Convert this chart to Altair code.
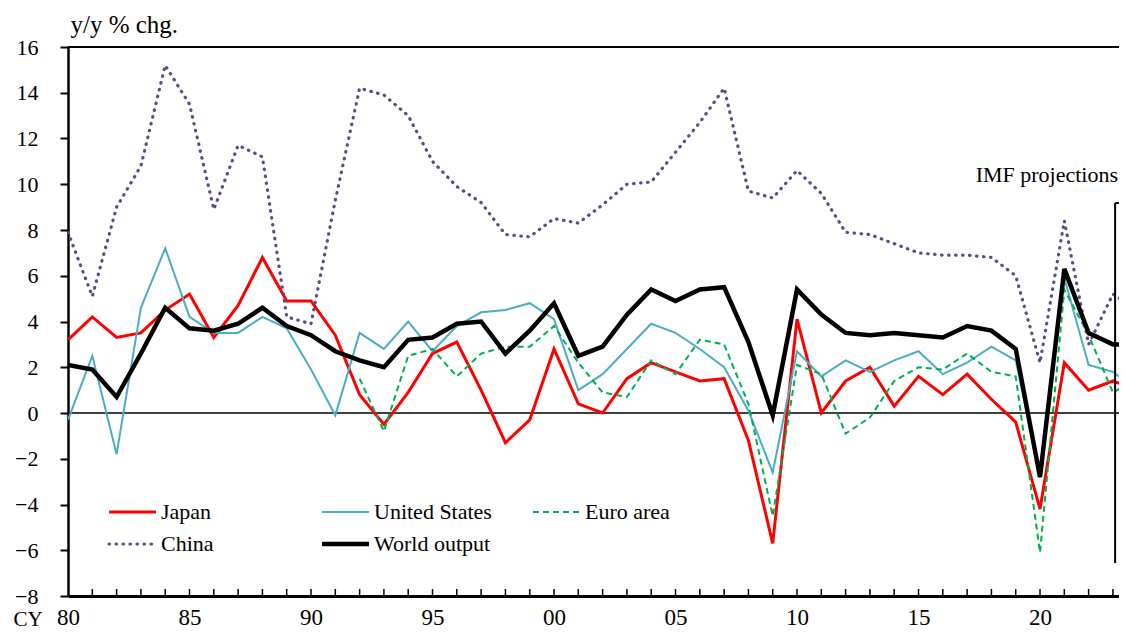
import altair as alt
import pandas as pd

# ---------------- data (y/y % chg.) ----------------
years = list(range(1980, 2025))
japan = [3.2, 4.2, 3.3, 3.5, 4.5, 5.2, 3.3, 4.7, 6.8, 4.9,
         4.9, 3.4, 0.8, -0.5, 0.9, 2.6, 3.1, 1.0, -1.3, -0.3,
         2.8, 0.4, 0.0, 1.5, 2.2, 1.8, 1.4, 1.5, -1.2, -5.7,
         4.1, 0.0, 1.4, 2.0, 0.3, 1.6, 0.8, 1.7, 0.6, -0.4,
         -4.2, 2.2, 1.0, 1.4, 1.0]
united_states = [-0.3, 2.5, -1.8, 4.6, 7.2, 4.2, 3.5, 3.5, 4.2, 3.7,
                 1.9, -0.1, 3.5, 2.8, 4.0, 2.7, 3.8, 4.4, 4.5, 4.8,
                 4.1, 1.0, 1.7, 2.8, 3.9, 3.5, 2.8, 2.0, 0.1, -2.6,
                 2.7, 1.6, 2.3, 1.8, 2.3, 2.7, 1.7, 2.2, 2.9, 2.3,
                 -2.8, 5.9, 2.1, 1.8, 1.0]
euro_years = list(range(1992, 2025))
euro_area = [1.5, -0.8, 2.5, 2.8, 1.6, 2.6, 2.9, 2.9,
             3.8, 2.2, 0.9, 0.7, 2.3, 1.7, 3.2, 3.0, 0.4, -4.5,
             2.1, 1.7, -0.9, -0.2, 1.4, 2.0, 1.9, 2.6, 1.8, 1.6,
             -6.1, 5.4, 3.4, 0.9, 1.5]
china = [7.9, 5.1, 9.0, 10.8, 15.2, 13.5, 8.9, 11.7, 11.2, 4.2,
         3.9, 9.3, 14.2, 13.9, 13.0, 11.0, 9.9, 9.2, 7.8, 7.7,
         8.5, 8.3, 9.1, 10.0, 10.1, 11.4, 12.7, 14.2, 9.7, 9.4,
         10.6, 9.6, 7.9, 7.8, 7.4, 7.0, 6.9, 6.9, 6.8, 6.0,
         2.2, 8.4, 3.0, 5.2, 4.5]
world_output = [2.1, 1.9, 0.7, 2.6, 4.6, 3.7, 3.6, 3.9, 4.6, 3.8,
                3.4, 2.7, 2.3, 2.0, 3.2, 3.3, 3.9, 4.0, 2.6, 3.6,
                4.8, 2.5, 2.9, 4.3, 5.4, 4.9, 5.4, 5.5, 3.1, -0.1,
                5.4, 4.3, 3.5, 3.4, 3.5, 3.4, 3.3, 3.8, 3.6, 2.8,
                -2.8, 6.3, 3.5, 3.0, 3.0]

x_label_years = list(range(1980, 2021, 5))
minor_tick_years = list(range(1981, 2024))
y_ticks = list(range(-8, 17, 2))

projection_start = 2023.09
projection_bottom = -6.56
projection_top = 9.18
x_max = 2023.25

FONT = "Liberation Serif, Times New Roman, Times, DejaVu Serif, serif"
W, H = 1051, 549

# ---------------- scales / axes ----------------
xscale = alt.Scale(domain=[1980, x_max], nice=False, zero=False)
yscale = alt.Scale(domain=[-8, 16], nice=False, zero=False)

x_axis = alt.Axis(values=x_label_years,
                  labelExpr="substring(toString(datum.value), 2, 4)",
                  ticks=False, tickSize=0, grid=False,
                  domainColor="black", domainWidth=3,
                  labelFont=FONT, labelFontSize=23, labelColor="black",
                  labelBaseline="alphabetic", labelPadding=28,
                  labelFlush=False, labelOverlap=False,
                  title="CY", titleFont=FONT, titleFontSize=21,
                  titleFontWeight="normal", titleColor="black",
                  titleX=-55, titleY=29, titleAlign="left",
                  titleBaseline="alphabetic")
y_axis = alt.Axis(values=y_ticks, grid=False,
                  tickSize=8, tickWidth=2, tickColor="black",
                  domainColor="black", domainWidth=2.5,
                  labelFont=FONT, labelFontSize=22, labelColor="black",
                  labelPadding=22, labelFlush=False, labelOverlap=False,
                  title="y/y % chg.", titleFont=FONT, titleFontSize=25,
                  titleFontWeight="normal", titleColor="black",
                  titleAngle=0, titleX=2, titleY=-15, titleAlign="left",
                  titleBaseline="alphabetic")


def X(field):
    return alt.X(field, type="quantitative", scale=xscale, axis=x_axis)


def Y(field):
    return alt.Y(field, type="quantitative", scale=yscale, axis=y_axis)


series = [
    # name, years, values, color, width, dash, cap, legend col, legend row
    ("Japan", years, japan, "#FF0000", 3, None, "butt", 0, 0),
    ("United States", years, united_states, "#4BACC6", 2, None, "butt", 1, 0),
    ("Euro area", euro_years, euro_area, "#00B050", 2, [6, 4], "butt", 2, 0),
    ("China", years, china, "#5E4A87", 3.2, [0.5, 6.5], "round", 0, 1),
    ("World output", years, world_output, "#000000", 4.5, None, "butt", 1, 1),
]

legend_x = [41, 254, 465]
legend_y = [465, 497]
legend_len = 47

layers = []

# top frame line and zero line
layers.append(alt.Chart(pd.DataFrame({"v": [16]})).mark_rule(
    color="black", strokeWidth=2).encode(y=Y("v")))
layers.append(alt.Chart(pd.DataFrame({"v": [0]})).mark_rule(
    color="black", strokeWidth=1.5).encode(y=Y("v")))

# minor ticks on the x axis (pointing inward)
layers.append(alt.Chart(pd.DataFrame({"yr": minor_tick_years})).mark_rule(
    color="black", strokeWidth=1.5).encode(
    x=X("yr"), y=alt.value(H), y2=alt.value(H - 7)))

line_layers = []
legend_layers = []
for name, yrs, vals, color, width, dash, cap, col, row in series:
    d = pd.DataFrame({"year": yrs, "value": vals})
    kw = dict(color=color, strokeWidth=width, strokeCap=cap, clip=True)
    if dash:
        kw["strokeDash"] = dash
    line_layers.append(alt.Chart(d).mark_line(**kw).encode(
        x=X("year"), y=Y("value")))
    lkw = dict(color=color, strokeWidth=width, strokeCap=cap)
    if dash:
        lkw["strokeDash"] = dash
    lx = legend_x[col]
    ly = legend_y[row]
    legend_layers.append(alt.Chart(pd.DataFrame({"label": [name]})).mark_rule(**lkw).encode(
        x=alt.value(lx), x2=alt.value(lx + legend_len), y=alt.value(ly)))
    legend_layers.append(alt.Chart(pd.DataFrame({"label": [name]})).mark_text(
        font=FONT, fontSize=22, color="black", align="left",
        baseline="middle").encode(
        x=alt.value(lx + legend_len + 5), y=alt.value(ly), text="label:N"))

layers += line_layers

# IMF projections bracket
bracket_v = pd.DataFrame({"x": [projection_start], "y1": [projection_bottom],
                          "y2": [projection_top]})
layers.append(alt.Chart(bracket_v).mark_rule(color="black", strokeWidth=2).encode(
    x=X("x"), y=Y("y1"), y2="y2:Q"))
bracket_h = pd.DataFrame({"x1": [projection_start], "x2": [x_max],
                          "y": [projection_top]})
layers.append(alt.Chart(bracket_h).mark_rule(color="black", strokeWidth=2).encode(
    x=X("x1"), x2="x2:Q", y=Y("y")))
imf_text = pd.DataFrame({"x": [2023.21], "y": [10.4], "t": ["IMF projections"]})
layers.append(alt.Chart(imf_text).mark_text(
    font=FONT, fontSize=22, color="black", align="right",
    baseline="middle").encode(x=X("x"), y=Y("y"), text="t:N"))

layers += legend_layers

chart = alt.layer(*layers).properties(
    width=W, height=H,
    autosize=alt.AutoSizeParams(type="none"),
    padding={"left": 60, "top": 39, "right": 0, "bottom": 33},
    background="white",
).configure_view(stroke=None)

chart.save("out.html", embed_options={"renderer": "svg", "actions": False})
